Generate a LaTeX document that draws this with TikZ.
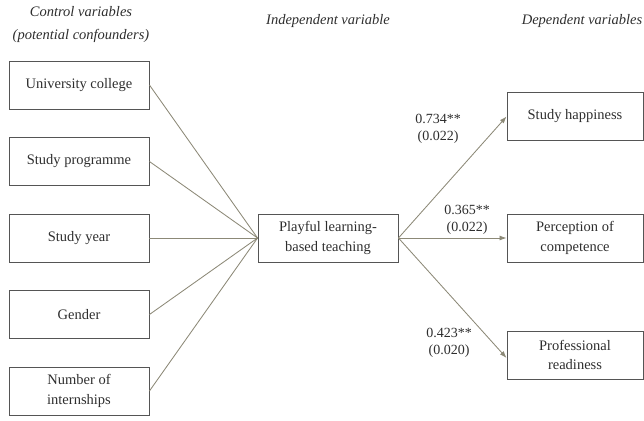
\documentclass[tikz,border=0pt]{standalone}
\usepackage{fontspec}
\setmainfont{Liberation Serif}
\usetikzlibrary{arrows.meta}
\definecolor{boxline}{HTML}{555555}
\definecolor{conn}{HTML}{8C8977}
\definecolor{txt}{HTML}{2E2E2E}
\begin{document}
\begin{tikzpicture}[x=1pt,y=-1pt,
  vbox/.style={draw=boxline,line width=0.9pt,minimum width=140pt,minimum height=48pt,align=center,text=txt,font=\fontsize{14.5}{19.5}\selectfont,inner sep=0pt},
  rbox/.style={vbox,minimum width=136pt},
  hdr/.style={font=\fontsize{14.5}{23}\selectfont\itshape,align=center,text=txt},
  lbl/.style={font=\fontsize{14}{17}\selectfont,align=center,text=txt},
  link/.style={draw=conn,line width=0.85pt},
  arr/.style={link,-{Latex[length=7pt,width=5pt]}}]
\useasboundingbox (0,0) rectangle (644,420);
\node[hdr] (h1) at (81,25) {Control variables\\(potential confounders)};
\node[hdr] (h2) at (328,21) {Independent variable};
\node[hdr] (h3) at (582,21) {Dependent variables};

\node[vbox] (c1) at (79,85) {University college};
\node[vbox] (c2) at (79,161.5) {Study programme};
\node[vbox] (c3) at (79,238) {Study year};
\node[vbox] (c4) at (79,314.5) {Gender};
\node[vbox] (c5) at (79,391) {Number of\\internships};

\node[vbox] (ind) at (328,238) {Playful learning-\\based teaching};

\node[rbox] (d1) at (575,116.5) {Study happiness};
\node[rbox] (d2) at (575,238) {Perception of\\competence};
\node[rbox] (d3) at (575,355) {Professional\\readiness};

\foreach \c in {c1,c2,c3,c4,c5} \draw[link] (\c.east) -- (ind.west);

\draw[arr] (ind.east) -- (d1.west);
\draw[arr] (ind.east) -- (d2.west);
\draw[arr] (ind.east) -- ([yshift=-3pt]d3.west);

\node[lbl] (l1) at (438,129) {0.734**\\(0.022)};
\node[lbl] (l2) at (467,220) {0.365**\\(0.022)};
\node[lbl] (l3) at (449,343) {0.423**\\(0.020)};
\end{tikzpicture}
\end{document}
